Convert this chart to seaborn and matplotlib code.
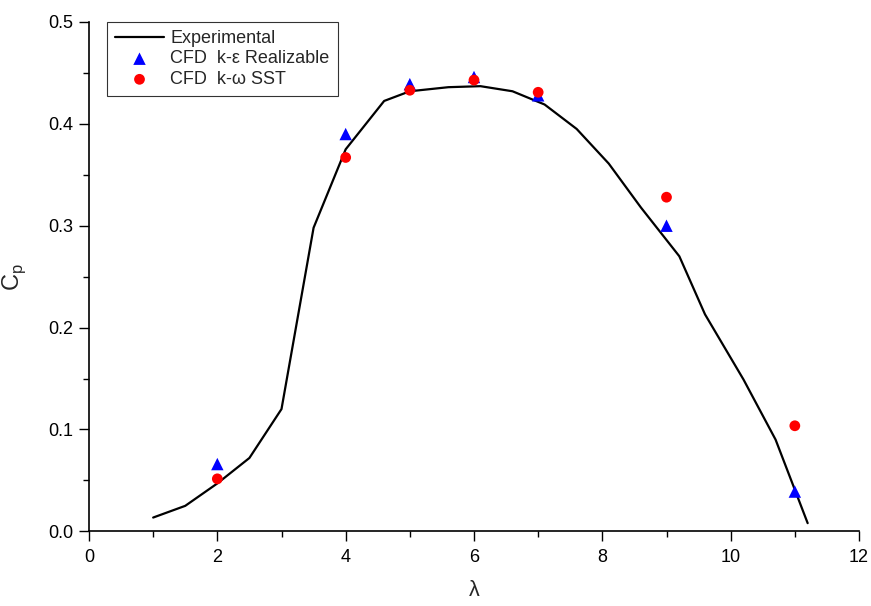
import matplotlib
matplotlib.use("Agg")
import matplotlib.pyplot as plt
import seaborn as sns
import pandas as pd
from matplotlib.ticker import MultipleLocator

exp_tsr = [1.0, 1.5, 2.0, 2.5, 3.0, 3.5, 4.0, 4.6, 5.0, 5.6, 6.1, 6.6, 7.1, 7.6, 8.1, 8.6, 9.2, 9.6, 10.2, 10.7, 11.2]
exp_cp = [0.0135, 0.025, 0.047, 0.072, 0.12, 0.298, 0.375, 0.4225, 0.432, 0.436, 0.437, 0.432, 0.419, 0.395, 0.361, 0.318, 0.270, 0.213, 0.149, 0.090, 0.008]

cfd_tsr = [2, 4, 5, 6, 7, 9, 11]
cfd_ke = [0.066, 0.390, 0.439, 0.446, 0.428, 0.300, 0.039]
cfd_kw = [0.0515, 0.367, 0.433, 0.443, 0.431, 0.328, 0.1036]

sns.set_style("ticks")
plt.rcParams['font.family'] = ['Liberation Sans', 'DejaVu Sans']
plt.rcParams['mathtext.fontset'] = 'custom'
plt.rcParams['mathtext.rm'] = 'Liberation Sans'

fig = plt.figure(figsize=(8.71, 6.06), dpi=100)
ax = fig.add_axes([89/871, 1 - 531.3/606, (859 - 89)/871, (531.3 - 22)/606])

df_exp = pd.DataFrame({"tsr": exp_tsr, "cp": exp_cp})
df_ke = pd.DataFrame({"tsr": cfd_tsr, "cp": cfd_ke})
df_kw = pd.DataFrame({"tsr": cfd_tsr, "cp": cfd_kw})

sns.lineplot(data=df_exp, x="tsr", y="cp", ax=ax, color="black", linewidth=1.6,
             label="Experimental", sort=False)
sns.scatterplot(data=df_ke, x="tsr", y="cp", ax=ax, color="blue", marker="^", s=80,
                edgecolor="none", label="CFD  k-ε Realizable", zorder=3)
sns.scatterplot(data=df_kw, x="tsr", y="cp", ax=ax, color="red", marker="o", s=60,
                edgecolor="none", label="CFD  k-ω SST", zorder=4)

ax.set_xlim(0, 12)
ax.set_ylim(0, 0.5)
ax.xaxis.set_major_locator(MultipleLocator(2))
ax.xaxis.set_minor_locator(MultipleLocator(1))
ax.yaxis.set_major_locator(MultipleLocator(0.1))
ax.yaxis.set_minor_locator(MultipleLocator(0.05))
ax.set_yticks([0, 0.1, 0.2, 0.3, 0.4, 0.5])
ax.set_yticklabels(["0.0", "0.1", "0.2", "0.3", "0.4", "0.5"])
ax.tick_params(which='major', direction='out', length=7.5, width=1.0, labelsize=13,
               color='black', labelcolor='black')
ax.tick_params(axis='x', which='major', pad=5)
ax.tick_params(axis='y', which='major', pad=4)
ax.tick_params(which='minor', direction='out', length=4.5, width=1.0, color='black')
for s in ['top', 'right']:
    ax.spines[s].set_visible(False)
for s in ['left', 'bottom']:
    ax.spines[s].set_linewidth(1.2)
    ax.spines[s].set_color('black')

ax.set_xlabel("λ", fontsize=15.5, labelpad=10)
ax.set_ylabel(r"C$_\mathregular{p}$", fontsize=17, labelpad=14)

leg = ax.legend(loc='upper left', bbox_to_anchor=(107/871, 1 - 21.7/606),
                bbox_transform=fig.transFigure, frameon=True, fancybox=False,
                fontsize=13, handlelength=2.7, handletextpad=0.35, borderpad=0.45,
                labelspacing=0.2, borderaxespad=0)
leg.get_frame().set_edgecolor('black')
leg.get_frame().set_linewidth(0.8)

fig.savefig("out.png", dpi=100)
